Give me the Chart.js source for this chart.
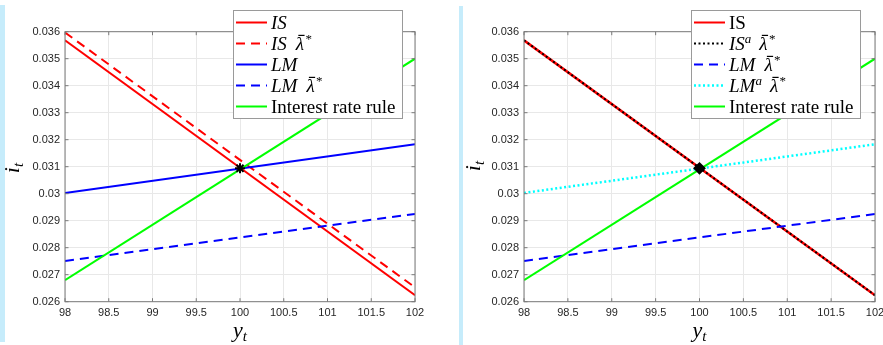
<!DOCTYPE html>
<html>
<head>
<meta charset="utf-8">
<script src="https://cdn.jsdelivr.net/npm/chart.js@4"></script>
<style>
html, body { margin: 0; padding: 0; background: #fff; overflow: hidden; width: 883px; height: 345px; }
.bar { position: absolute; background: #c6ecfb; }
.panel { position: absolute; top: 0; width: 440px; height: 345px; }
</style>
</head>
<body>
<div class="bar" style="left:0;top:5px;width:5px;height:337px"></div>
<div class="bar" style="left:459px;top:6px;width:4px;height:339px"></div>
<div class="panel" style="left:0"><canvas id="leftChart" width="440" height="345"></canvas></div>
<div class="panel" style="left:463px"><canvas id="rightChart" width="440" height="345"></canvas></div>
<script>
// output grid (y_t) and interest rate (i_t) at each end
const outputGrid = [98, 102];
const isRate = [0.03568, 0.02624];
const isShiftRate = [0.03597, 0.02653];
const lmRate = [0.03003, 0.03183];
const lmShiftRate = [0.02751, 0.02925];
const ruleRate = [0.0268, 0.0350];
const isAltRate = [0.03568, 0.02624];
const lmAltRate = [0.03003, 0.03183];
const equilibrium = [100, 0.03094];

const xTicks = [98, 98.5, 99, 99.5, 100, 100.5, 101, 101.5, 102];
const yTicks = [0.026, 0.027, 0.028, 0.029, 0.03, 0.031, 0.032, 0.033, 0.034, 0.035, 0.036];

const SERIF = '"Liberation Serif", "DejaVu Serif", serif';
const TXT = 19;

function toPoints(xs, ys) {
    return xs.map((x, i) => ({ x: x, y: ys[i] }));
}

function lineSet(label, ys, color, dash, width) {
    return {
        label: label,
        data: toPoints(outputGrid, ys),
        borderColor: color,
        backgroundColor: color,
        borderWidth: width || 2,
        borderDash: dash || [],
        pointRadius: 0,
        tension: 0,
        fill: false
    };
}

// draws a run of text pieces (italic / sub / sup / barred)
function drawRich(ctx, parts, x, y, measureOnly) {
    let cx = x;
    parts.forEach(p => {
        const size = p.size || TXT;
        ctx.font = (p.it ? 'italic ' : '') + size + 'px ' + SERIF;
        const w = ctx.measureText(p.t).width;
        if (!measureOnly) {
            ctx.fillText(p.t, cx, y + (p.dy || 0));
            if (p.bar) ctx.fillRect(cx + 2.5, y - size * 0.8, w - 2, 1.2);
        }
        cx += w + (p.gap || 0);
    });
    return cx - x;
}

const it = (t, gap) => ({ t: t, it: true, gap: gap || 0 });
const up = (t) => ({ t: t });
const sup = (t, italic) => ({ t: t, it: italic, size: 13, dy: -7 });
const lam = () => ({ t: 'λ', it: true, bar: true, gap: 1.5 });

function framePlugin(cfg) {
    return {
        id: 'frame',
        afterDatasetsDraw(chart) {
            const ctx = chart.ctx;
            const a = chart.chartArea;
            const xs = chart.scales.x, ys = chart.scales.y;
            ctx.save();
            ctx.strokeStyle = '#7a7a7a';
            ctx.lineWidth = 1;
            ctx.beginPath();
            xTicks.forEach(v => {
                const px = xs.getPixelForValue(v);
                ctx.moveTo(px, a.bottom); ctx.lineTo(px, a.bottom - 3.5);
                ctx.moveTo(px, a.top); ctx.lineTo(px, a.top + 3.5);
            });
            yTicks.forEach(v => {
                const py = ys.getPixelForValue(v);
                ctx.moveTo(a.left, py); ctx.lineTo(a.left + 3.5, py);
                ctx.moveTo(a.right, py); ctx.lineTo(a.right - 3.5, py);
            });
            ctx.stroke();
            ctx.strokeRect(a.left, a.top, a.right - a.left, a.bottom - a.top);
            ctx.restore();
        },
        afterDraw(chart) {
            const ctx = chart.ctx;
            ctx.save();
            ctx.fillStyle = '#000';
            ctx.textBaseline = 'alphabetic';

            // axis titles
            const xt = [{ t: 'y', it: true, size: 22 }, { t: 't', it: true, size: 15, dy: 4 }];
            const xw = drawRich(ctx, xt, 0, 0, true);
            drawRich(ctx, xt, cfg.xTitle[0] - xw / 2, cfg.xTitle[1]);

            const yt = [{ t: 'i', it: true, size: 22 }, { t: 't', it: true, size: 15, dy: 4 }];
            const yw = drawRich(ctx, yt, 0, 0, true);
            ctx.save();
            ctx.translate(cfg.yTitle[0], cfg.yTitle[1]);
            ctx.rotate(-Math.PI / 2);
            drawRich(ctx, yt, -yw / 2, 0);
            ctx.restore();

            // legend box
            const L = cfg.legend;
            ctx.fillStyle = '#fff';
            ctx.fillRect(L.x, L.y, L.w, L.h);
            ctx.strokeStyle = '#9a9a9a';
            ctx.lineWidth = 1;
            ctx.strokeRect(L.x + 0.5, L.y + 0.5, L.w, L.h);
            L.items.forEach((item, i) => {
                const cy = L.y + 12.5 + i * 21;
                ctx.save();
                ctx.strokeStyle = item.color;
                ctx.lineWidth = item.width || 2;
                ctx.setLineDash(item.dash || []);
                ctx.beginPath();
                ctx.moveTo(L.x + 3, cy);
                ctx.lineTo(L.x + 34, cy);
                ctx.stroke();
                ctx.restore();
                ctx.fillStyle = '#000';
                drawRich(ctx, item.text, L.x + 38, cy + 6.5);
            });
            ctx.restore();
        }
    };
}

function makeChart(id, datasets, cfg) {
    new Chart(document.getElementById(id), {
        type: 'line',
        data: { datasets: datasets },
        options: {
            responsive: false,
            animation: false,
            layout: { padding: { left: 0, top: 31.7, right: cfg.padRight, bottom: 0 } },
            plugins: { legend: { display: false }, tooltip: { enabled: false } },
            scales: {
                x: {
                    type: 'linear', min: 98, max: 102,
                    afterBuildTicks: s => { s.ticks = xTicks.map(v => ({ value: v })); },
                    afterFit: s => { s.height = 43.3; },
                    grid: { color: '#e8e8e8', drawTicks: false },
                    border: { display: false },
                    ticks: { padding: 5, color: '#262626', font: { family: '"Liberation Sans", Arial, sans-serif', size: 11 }, maxRotation: 0, callback: v => String(v) }
                },
                y: {
                    type: 'linear', min: 0.026, max: 0.036,
                    afterBuildTicks: s => { s.ticks = yTicks.map(v => ({ value: v })); },
                    afterFit: s => { s.width = cfg.yWidth; },
                    grid: { color: '#e8e8e8', drawTicks: false },
                    border: { display: false },
                    ticks: { padding: 5, color: '#262626', font: { family: '"Liberation Sans", Arial, sans-serif', size: 11 }, callback: v => String(Number(v.toFixed(3))) }
                }
            }
        },
        plugins: [framePlugin(cfg)]
    });
}

const marker = (style) => ({
    label: 'eq',
    data: [{ x: equilibrium[0], y: equilibrium[1] }],
    showLine: false,
    pointStyle: style,
    pointRadius: 5,
    pointBorderWidth: 2,
    pointBorderColor: '#000',
    pointBackgroundColor: '#000'
});

// left panel (first dataset drawn on top)
makeChart('leftChart', [
    marker('star'),
    lineSet('Interest rate rule', ruleRate, '#00ff00'),
    lineSet('LM lambda', lmShiftRate, '#0000ff', [9, 6]),
    lineSet('LM', lmRate, '#0000ff'),
    lineSet('IS lambda', isShiftRate, '#ff0000', [9, 6]),
    lineSet('IS', isRate, '#ff0000')
], {
    padRight: 25, yWidth: 65,
    xTitle: [240, 337], yTitle: [19, 168],
    legend: {
        x: 233, y: 10, w: 169, h: 108,
        items: [
            { color: '#ff0000', text: [it('IS')] },
            { color: '#ff0000', dash: [9, 6], text: [it('IS', 9), lam(), sup('*')] },
            { color: '#0000ff', text: [it('LM')] },
            { color: '#0000ff', dash: [9, 6], text: [it('LM', 9), lam(), sup('*')] },
            { color: '#00ff00', text: [up('Interest rate rule')] }
        ]
    }
});

// right panel
makeChart('rightChart', [
    marker('rectRot'),
    lineSet('Interest rate rule', ruleRate, '#00ff00'),
    lineSet('LM^a lambda', lmAltRate, '#00ffff', [2, 2.5], 2.5),
    lineSet('LM lambda', lmShiftRate, '#0000ff', [9, 6]),
    lineSet('IS^a lambda', isAltRate, '#000000', [2, 2.5], 2),
    lineSet('IS', isRate, '#ff0000', [], 2.5)
], {
    padRight: 28, yWidth: 61,
    xTitle: [236.5, 337], yTitle: [17, 166],
    legend: {
        x: 228, y: 10, w: 169, h: 108,
        items: [
            { color: '#ff0000', text: [up('IS')] },
            { color: '#000000', dash: [2, 2.5], text: [it('IS'), sup('a', true), { t: '', gap: 8 }, lam(), sup('*')] },
            { color: '#0000ff', dash: [9, 6], text: [it('LM', 9), lam(), sup('*')] },
            { color: '#00ffff', dash: [2, 2.5], width: 2.5, text: [it('LM'), sup('a', true), { t: '', gap: 8 }, lam(), sup('*')] },
            { color: '#00ff00', text: [up('Interest rate rule')] }
        ]
    }
});
</script>
</body>
</html>
